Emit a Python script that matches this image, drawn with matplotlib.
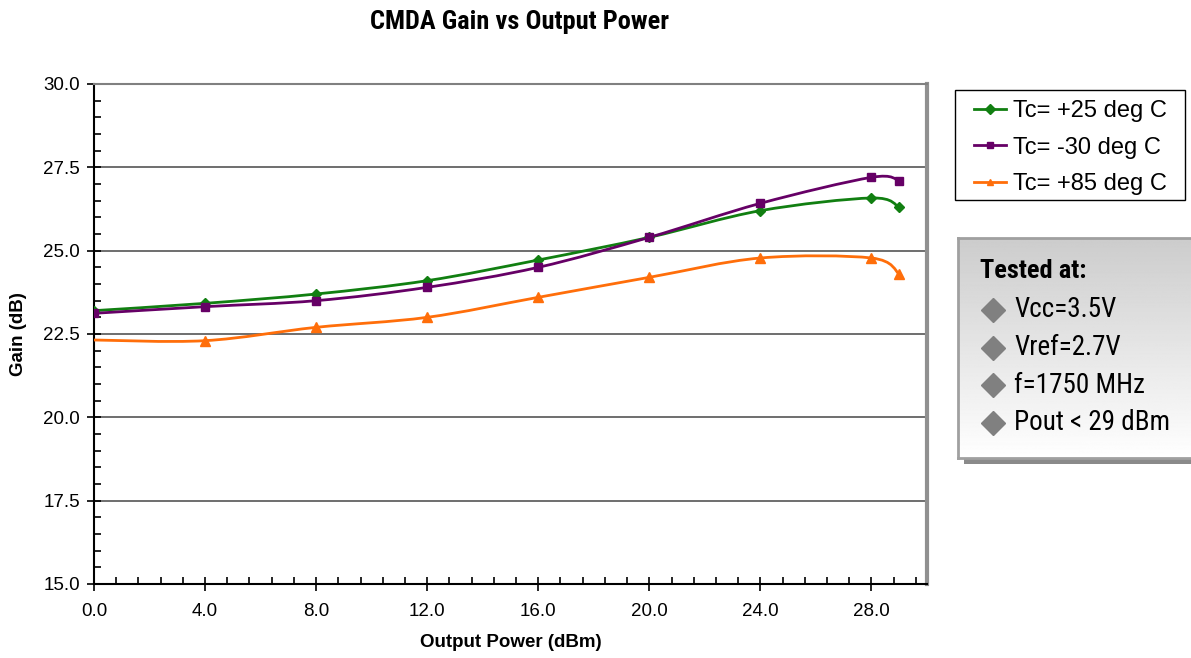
import numpy as np
import matplotlib
matplotlib.use("Agg")
import matplotlib.pyplot as plt
from matplotlib.path import Path
from matplotlib.patches import PathPatch, Rectangle
from matplotlib.lines import Line2D
from matplotlib.ticker import MultipleLocator, FormatStrFormatter

plt.rcParams['font.family'] = ['Liberation Sans', 'DejaVu Sans']
narrow = ['Liberation Sans Narrow', 'Roboto Condensed', 'Liberation Sans', 'DejaVu Sans']

# data
pout = [0, 4, 8, 12, 16, 20, 24, 28, 29]
gain_25 = [23.2, 23.42, 23.7, 24.1, 24.72, 25.4, 26.2, 26.58, 26.3]
gain_m30 = [23.12, 23.32, 23.5, 23.9, 24.5, 25.4, 26.42, 27.2, 27.1]
gain_85 = [22.32, 22.3, 22.7, 23.0, 23.6, 24.2, 24.78, 24.78, 24.3]
labels = ["Tc= +25 deg C", "Tc= -30 deg C", "Tc= +85 deg C"]
colors = ["#117f11", "#660066", "#ff6e0a"]
markers = ["D", "s", "^"]
notes = ["Vcc=3.5V", "Vref=2.7V", "f=1750 MHz", "Pout < 29 dBm"]


def smooth_path(x, y):
    # excel style smoothed line, drawn as cubic bezier segments
    p = np.column_stack([x, y]).astype(float)
    n = len(p)
    verts = [p[0]]
    codes = [Path.MOVETO]
    for i in range(n - 1):
        p0 = p[i - 1] if i > 0 else p[i]
        p3 = p[i + 2] if i + 2 < n else p[i + 1]
        c1 = p[i] + (p[i + 1] - p0) / 6
        c2 = p[i + 1] - (p3 - p[i]) / 6
        verts += [c1, c2, p[i + 1]]
        codes += [Path.CURVE4] * 3
    return Path(verts, codes)


W, H = 1191, 658
fig = plt.figure(figsize=(W / 100, H / 100), dpi=100)
ax = fig.add_axes([94 / W, 1 - 584 / H, (927 - 94) / W, 500 / H])

series = [gain_25, gain_m30, gain_85]
for ys, c in zip(series, colors):
    ax.add_patch(PathPatch(smooth_path(pout, ys), fill=False, edgecolor=c, lw=2, zorder=3))
ax.plot(pout, gain_25, linestyle='none', marker='D', ms=5, color=colors[0], zorder=4)
ax.plot(pout, gain_m30, linestyle='none', marker='s', ms=6, color=colors[1], zorder=4)
ax.plot(pout[1:], gain_85[1:], linestyle='none', marker='^', ms=7, color=colors[2], zorder=4)

ax.set_xlim(0, 30)
ax.set_ylim(15, 30)
ax.xaxis.set_minor_locator(MultipleLocator(0.8))
ax.yaxis.set_major_locator(MultipleLocator(2.5))
ax.yaxis.set_minor_locator(MultipleLocator(0.5))
ax.xaxis.set_major_formatter(FormatStrFormatter('%.1f'))
ax.yaxis.set_major_formatter(FormatStrFormatter('%.1f'))
ax.set_xticks([0, 4, 8, 12, 16, 20, 24, 28])
ax.tick_params(axis='both', which='major', labelsize=13.5, direction='inout', length=10, width=1.2)
ax.tick_params(axis='x', which='major', pad=9)
ax.tick_params(axis='y', which='major', pad=5)
ax.tick_params(axis='both', which='minor', direction='in', length=5, width=1.2)
ax.grid(axis='y', which='major', color='#555555', lw=1.2)
ax.set_axisbelow(True)
for s in ['left', 'bottom']:
    ax.spines[s].set_linewidth(1.5)
    ax.spines[s].set_color('black')
ax.spines['top'].set_color('#808080')
ax.spines['top'].set_linewidth(1.5)
ax.spines['right'].set_color('#909090')
ax.spines['right'].set_linewidth(3)

ax.set_xlabel("Output Power (dBm)", fontsize=13.5, fontweight='bold', labelpad=10)
ax.set_ylabel("Gain (dB)", fontsize=13.5, fontweight='bold', labelpad=12)
fig.text(520 / W, 1 - 22 / H, "CMDA Gain vs Output Power", ha='center', va='center',
         fontsize=19, fontweight='bold', family=narrow)

# legend: frameless, with a separate box so the padding matches
fig.patches.append(Rectangle((955 / W, 1 - 200 / H), 230 / W, 110 / H, transform=fig.transFigure,
                             facecolor='white', edgecolor='black', lw=1, zorder=1))
handles = [Line2D([], [], color=c, marker=m, lw=2, ms=5) for c, m in zip(colors, markers)]
leg = fig.legend(handles, labels, loc='upper left', bbox_to_anchor=(974 / W, 1 - 100 / H),
                 fontsize=17, frameon=False, handlelength=1.35,
                 borderpad=0, labelspacing=0.62, handletextpad=0.3, borderaxespad=0)
leg.set_zorder(3)

# "Tested at" box with grey gradient and shadow
bx0, by0, bw, bh = 958 / W, 1 - 458 / H, 240 / W, 220 / H
fig.patches.append(Rectangle((bx0 + 6 / W, by0 - 6 / H), bw, bh, transform=fig.transFigure,
                             facecolor='#8a8a8a', edgecolor='none', zorder=1))
bax = fig.add_axes([bx0, by0, bw, bh])
bax.set_zorder(2)
grad = np.linspace(0.8, 1.0, 256).reshape(-1, 1)
bax.imshow(grad, cmap='gray', vmin=0, vmax=1, aspect='auto', extent=[0, 1, 0, 1], origin='upper')
bax.set_xlim(0, 1)
bax.set_ylim(0, 1)
bax.set_xticks([])
bax.set_yticks([])
for s in bax.spines.values():
    s.set_color('#a0a0a0')
    s.set_linewidth(2)
bax.text(0.092, 0.85, "Tested at:", fontsize=19, fontweight='bold', family=narrow,
         va='center', ha='left', transform=bax.transAxes)
for i, t in enumerate(notes):
    yy = 0.673 - i * 0.171
    bax.plot([0.146], [yy], marker='D', ms=12, color='#808080')
    bax.text(0.235, yy, t, fontsize=19.5, family=narrow, va='center', ha='left')

fig.savefig("out.png", dpi=100)
